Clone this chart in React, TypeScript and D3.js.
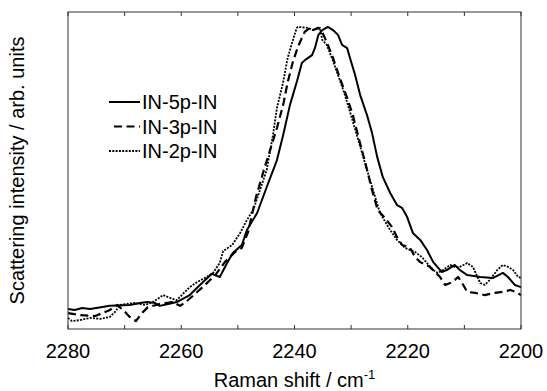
import * as d3 from "d3";
import { useEffect, useRef } from "react";

const shift5p = [2280, 2278.8, 2277.5, 2276.1, 2272.6, 2269.1, 2267.3, 2266.0, 2264.6, 2263.8, 2262.3, 2260.8, 2258.5, 2256.7, 2254.6, 2253.2, 2251.9, 2250.9, 2249.3, 2248.4, 2246.6, 2244.9, 2243.1, 2242.0, 2240.8, 2239.6, 2238.7, 2238.1, 2236.9, 2236.4, 2235.8, 2235.1, 2234.1, 2233.2, 2232.3, 2231.6, 2230.7, 2230.2, 2229.3, 2228.4, 2227.2, 2226.3, 2225.4, 2224.4, 2223.1, 2221.9, 2221.0, 2220.1, 2219.1, 2217.8, 2216.6, 2215.5, 2214.0, 2213.1, 2211.7, 2210.8, 2209.5, 2207.2, 2204.9, 2203.2, 2202.3, 2201.1, 2200];
const int5p = [0.063, 0.06, 0.066, 0.063, 0.073, 0.076, 0.082, 0.085, 0.082, 0.073, 0.079, 0.085, 0.107, 0.139, 0.174, 0.164, 0.208, 0.24, 0.265, 0.312, 0.366, 0.448, 0.533, 0.612, 0.707, 0.779, 0.839, 0.849, 0.864, 0.886, 0.927, 0.943, 0.953, 0.943, 0.927, 0.896, 0.886, 0.855, 0.801, 0.738, 0.675, 0.618, 0.543, 0.479, 0.429, 0.391, 0.382, 0.353, 0.303, 0.281, 0.249, 0.211, 0.18, 0.186, 0.202, 0.186, 0.17, 0.164, 0.161, 0.177, 0.164, 0.139, 0.132];

const shift3p = [2280, 2277.9, 2275.2, 2272.6, 2271.3, 2270.1, 2269.1, 2268.0, 2267.1, 2265.9, 2263.8, 2261.6, 2260.2, 2259.2, 2257.6, 2255.8, 2254.0, 2252.3, 2250.5, 2249.3, 2248.2, 2246.8, 2245.4, 2244.3, 2243.1, 2242.0, 2241.2, 2240.3, 2239.4, 2238.7, 2238.2, 2237.3, 2236.7, 2235.8, 2235.1, 2234.1, 2233.2, 2232.0, 2230.7, 2229.7, 2228.8, 2227.5, 2226.3, 2225.3, 2224.0, 2222.8, 2221.9, 2221.0, 2219.6, 2218.7, 2217.8, 2216.1, 2214.3, 2213.4, 2212.5, 2211.7, 2211.1, 2210.4, 2209.5, 2208.1, 2206.4, 2204.6, 2203.2, 2201.9, 2200.9, 2200];
const int3p = [0.05, 0.044, 0.041, 0.06, 0.076, 0.057, 0.038, 0.025, 0.047, 0.069, 0.079, 0.085, 0.073, 0.085, 0.11, 0.139, 0.17, 0.211, 0.243, 0.256, 0.306, 0.416, 0.502, 0.565, 0.634, 0.707, 0.779, 0.842, 0.89, 0.918, 0.937, 0.95, 0.943, 0.95, 0.937, 0.896, 0.855, 0.792, 0.729, 0.675, 0.612, 0.524, 0.438, 0.375, 0.35, 0.322, 0.29, 0.265, 0.256, 0.227, 0.211, 0.196, 0.164, 0.139, 0.145, 0.155, 0.164, 0.145, 0.117, 0.114, 0.107, 0.114, 0.117, 0.123, 0.117, 0.107];

const shift2p = [2280, 2279.3, 2277.9, 2276.1, 2274.3, 2272.6, 2271.7, 2270.8, 2269.8, 2268.2, 2266.4, 2265.0, 2263.2, 2262.0, 2260.8, 2258.5, 2257.2, 2255.5, 2254.4, 2253.2, 2252.6, 2251.0, 2249.6, 2248.4, 2247.3, 2246.1, 2244.9, 2243.8, 2243.1, 2242.0, 2241.2, 2240.4, 2239.6, 2239.4, 2237.6, 2236.7, 2235.5, 2235.1, 2234.3, 2233.4, 2232.3, 2231.1, 2230.2, 2229.0, 2227.7, 2226.3, 2224.9, 2223.1, 2221.9, 2220.5, 2218.7, 2217.5, 2216.6, 2215.5, 2214.7, 2213.8, 2212.5, 2211.7, 2210.8, 2209.5, 2208.5, 2207.2, 2206.4, 2205.5, 2204.2, 2203.2, 2202.3, 2201.4, 2200.5, 2200];
const int2p = [0.035, 0.025, 0.028, 0.035, 0.032, 0.038, 0.054, 0.076, 0.079, 0.082, 0.076, 0.085, 0.107, 0.098, 0.091, 0.132, 0.148, 0.164, 0.177, 0.208, 0.246, 0.265, 0.303, 0.344, 0.375, 0.438, 0.502, 0.612, 0.697, 0.779, 0.855, 0.905, 0.95, 0.953, 0.95, 0.943, 0.95, 0.912, 0.896, 0.855, 0.801, 0.738, 0.685, 0.612, 0.533, 0.448, 0.366, 0.312, 0.281, 0.256, 0.243, 0.227, 0.208, 0.186, 0.177, 0.186, 0.202, 0.196, 0.196, 0.208, 0.196, 0.145, 0.139, 0.155, 0.186, 0.202, 0.196, 0.186, 0.164, 0.161];

const seriesNames = ["IN-5p-IN", "IN-3p-IN", "IN-2p-IN"];
const tickValues = [2280, 2270, 2260, 2250, 2240, 2230, 2220, 2210, 2200];
const labelValues = [2280, 2260, 2240, 2220, 2200];

const styles = [
  { dash: null as string | null, width: 2 },
  { dash: "8,4.5", width: 2.2 },
  { dash: "2,1.3", width: 1.8 },
];

export default function App() {
  const ref = useRef<SVGSVGElement | null>(null);

  useEffect(() => {
    if (!ref.current) return;
    const svg = d3.select(ref.current);
    svg.selectAll("*").remove();

    const W = 547;
    const H = 391;
    const margin = { top: 12, right: 26, bottom: 62, left: 68 };
    const font = "Arial, 'Liberation Sans', sans-serif";

    const x = d3.scaleLinear().domain([2280, 2200]).range([margin.left, W - margin.right]);
    const y = d3.scaleLinear().domain([0, 1]).range([H - margin.bottom, margin.top]);

    const series = [
      shift5p.map((s, i) => [s, int5p[i]] as [number, number]),
      shift3p.map((s, i) => [s, int3p[i]] as [number, number]),
      shift2p.map((s, i) => [s, int2p[i]] as [number, number]),
    ];

    const line = d3
      .line<[number, number]>()
      .x((d) => x(d[0]))
      .y((d) => y(d[1]));

    // curves
    series.forEach((data, i) => {
      const p = svg
        .append("path")
        .attr("d", line(data))
        .attr("fill", "none")
        .attr("stroke", "#000")
        .attr("stroke-width", styles[i].width)
        .attr("stroke-linejoin", "round");
      if (styles[i].dash) p.attr("stroke-dasharray", styles[i].dash);
    });

    // frame
    svg
      .append("rect")
      .attr("x", margin.left)
      .attr("y", margin.top)
      .attr("width", W - margin.left - margin.right)
      .attr("height", H - margin.top - margin.bottom)
      .attr("fill", "none")
      .attr("stroke", "#333")
      .attr("stroke-width", 1);

    const bottom = H - margin.bottom;
    tickValues.forEach((t) => {
      svg.append("line").attr("x1", x(t)).attr("x2", x(t)).attr("y1", bottom).attr("y2", bottom - 4).attr("stroke", "#333");
      svg.append("line").attr("x1", x(t)).attr("x2", x(t)).attr("y1", margin.top).attr("y2", margin.top + 4).attr("stroke", "#333");
    });

    svg
      .selectAll("text.tick")
      .data(labelValues)
      .enter()
      .append("text")
      .attr("class", "tick")
      .attr("x", (d) => x(d))
      .attr("y", bottom + 29)
      .attr("text-anchor", "middle")
      .style("font-family", font)
      .style("font-size", "20px")
      .text((d) => d.toString());

    const xt = svg
      .append("text")
      .attr("x", (margin.left + W - margin.right) / 2)
      .attr("y", 387)
      .attr("text-anchor", "middle")
      .style("font-family", font)
      .style("font-size", "20px");
    xt.append("tspan").text("Raman shift / cm");
    xt.append("tspan").attr("dy", -8).style("font-size", "13px").text("-1");

    svg
      .append("text")
      .attr("transform", `translate(24,${(margin.top + bottom) / 2}) rotate(-90)`)
      .attr("text-anchor", "middle")
      .style("font-family", font)
      .style("font-size", "20px")
      .text("Scattering intensity / arb. units");

    // legend
    const legendRows = [103, 127.5, 152];
    seriesNames.forEach((name, i) => {
      const ly = legendRows[i];
      const l = svg
        .append("line")
        .attr("x1", i === 1 ? 114 : 109)
        .attr("x2", 140)
        .attr("y1", ly - 1)
        .attr("y2", ly - 1)
        .attr("stroke", "#000")
        .attr("stroke-width", styles[i].width);
      if (styles[i].dash) l.attr("stroke-dasharray", styles[i].dash);
      svg
        .append("text")
        .attr("x", 142)
        .attr("y", ly + 6)
        .style("font-family", font)
        .style("font-size", "20px")
        .text(name);
    });
  }, []);

  return (
    <svg
      ref={ref}
      width={547}
      height={391}
      style={{ position: "absolute", left: 0, top: 0, background: "#fff" }}
    ></svg>
  );
}
